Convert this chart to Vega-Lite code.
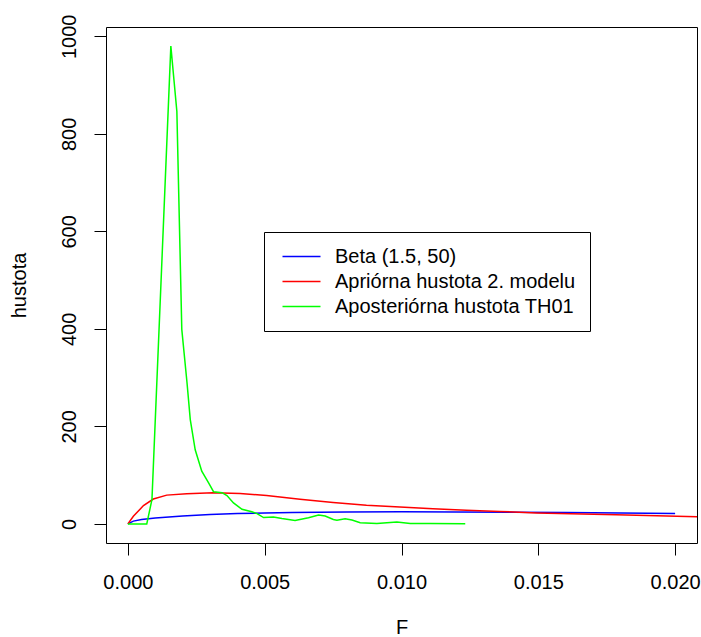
{
  "$schema": "https://vega.github.io/schema/vega-lite/v6.json",
  "width": 591,
  "height": 516,
  "autosize": {"type": "none"},
  "padding": {"left": 106, "top": 27, "right": 4, "bottom": 94},
  "background": "white",
  "config": {
    "font": "Liberation Sans",
    "view": {"stroke": "black", "strokeWidth": 1},
    "axis": {
      "domain": false,
      "grid": false,
      "tickColor": "black",
      "tickSize": 12,
      "tickWidth": 1,
      "labelColor": "black",
      "labelFontSize": 20,
      "labelFont": "Liberation Sans",
      "titleFont": "Liberation Sans",
      "titleFontSize": 20,
      "titleFontWeight": "normal",
      "titleColor": "black"
    }
  },
  "data": {
    "values": [
      {"F": 0, "d": 0, "s": "Beta (1.5, 50)"},
      {"F": 0.0002, "d": 5.7, "s": "Beta (1.5, 50)"},
      {"F": 0.0005, "d": 8.8, "s": "Beta (1.5, 50)"},
      {"F": 0.001, "d": 12.2, "s": "Beta (1.5, 50)"},
      {"F": 0.002, "d": 16.4, "s": "Beta (1.5, 50)"},
      {"F": 0.003, "d": 19.1, "s": "Beta (1.5, 50)"},
      {"F": 0.004, "d": 21.1, "s": "Beta (1.5, 50)"},
      {"F": 0.005, "d": 22.4, "s": "Beta (1.5, 50)"},
      {"F": 0.006, "d": 23.4, "s": "Beta (1.5, 50)"},
      {"F": 0.008, "d": 24.5, "s": "Beta (1.5, 50)"},
      {"F": 0.010, "d": 24.7, "s": "Beta (1.5, 50)"},
      {"F": 0.012, "d": 24.6, "s": "Beta (1.5, 50)"},
      {"F": 0.014, "d": 24.0, "s": "Beta (1.5, 50)"},
      {"F": 0.016, "d": 23.2, "s": "Beta (1.5, 50)"},
      {"F": 0.018, "d": 22.3, "s": "Beta (1.5, 50)"},
      {"F": 0.020, "d": 21.2, "s": "Beta (1.5, 50)"},

      {"F": 0, "d": 0, "s": "Apriórna hustota 2. modelu"},
      {"F": 0.0002, "d": 15.6, "s": "Apriórna hustota 2. modelu"},
      {"F": 0.00057, "d": 37.5, "s": "Apriórna hustota 2. modelu"},
      {"F": 0.00093, "d": 51, "s": "Apriórna hustota 2. modelu"},
      {"F": 0.00142, "d": 59, "s": "Apriórna hustota 2. modelu"},
      {"F": 0.00215, "d": 62, "s": "Apriórna hustota 2. modelu"},
      {"F": 0.00312, "d": 64, "s": "Apriórna hustota 2. modelu"},
      {"F": 0.0041, "d": 62.5, "s": "Apriórna hustota 2. modelu"},
      {"F": 0.00507, "d": 58, "s": "Apriórna hustota 2. modelu"},
      {"F": 0.00629, "d": 50.5, "s": "Apriórna hustota 2. modelu"},
      {"F": 0.0075, "d": 44, "s": "Apriórna hustota 2. modelu"},
      {"F": 0.00872, "d": 38, "s": "Apriórna hustota 2. modelu"},
      {"F": 0.00994, "d": 34.5, "s": "Apriórna hustota 2. modelu"},
      {"F": 0.01115, "d": 31, "s": "Apriórna hustota 2. modelu"},
      {"F": 0.01237, "d": 28, "s": "Apriórna hustota 2. modelu"},
      {"F": 0.01359, "d": 25.5, "s": "Apriórna hustota 2. modelu"},
      {"F": 0.01493, "d": 22.5, "s": "Apriórna hustota 2. modelu"},
      {"F": 0.01785, "d": 18.5, "s": "Apriórna hustota 2. modelu"},
      {"F": 0.0208, "d": 14.5, "s": "Apriórna hustota 2. modelu"},
      {"F": 0.022, "d": 13.5, "s": "Apriórna hustota 2. modelu"},

      {"F": 0, "d": 0, "s": "Aposteriórna hustota TH01"},
      {"F": 0.00069, "d": 0, "s": "Aposteriórna hustota TH01"},
      {"F": 0.00088, "d": 50, "s": "Aposteriórna hustota TH01"},
      {"F": 0.00157, "d": 980, "s": "Aposteriórna hustota TH01"},
      {"F": 0.00179, "d": 846, "s": "Aposteriórna hustota TH01"},
      {"F": 0.00197, "d": 399, "s": "Aposteriórna hustota TH01"},
      {"F": 0.00216, "d": 290, "s": "Aposteriórna hustota TH01"},
      {"F": 0.00228, "d": 214, "s": "Aposteriórna hustota TH01"},
      {"F": 0.00246, "d": 152, "s": "Aposteriórna hustota TH01"},
      {"F": 0.0027, "d": 108, "s": "Aposteriórna hustota TH01"},
      {"F": 0.00295, "d": 84, "s": "Aposteriórna hustota TH01"},
      {"F": 0.00313, "d": 66, "s": "Aposteriórna hustota TH01"},
      {"F": 0.00344, "d": 64, "s": "Aposteriórna hustota TH01"},
      {"F": 0.00362, "d": 58, "s": "Aposteriórna hustota TH01"},
      {"F": 0.00386, "d": 43, "s": "Aposteriórna hustota TH01"},
      {"F": 0.00417, "d": 30, "s": "Aposteriórna hustota TH01"},
      {"F": 0.00453, "d": 25, "s": "Aposteriórna hustota TH01"},
      {"F": 0.00472, "d": 21, "s": "Aposteriórna hustota TH01"},
      {"F": 0.00496, "d": 13, "s": "Aposteriórna hustota TH01"},
      {"F": 0.00532, "d": 14, "s": "Aposteriórna hustota TH01"},
      {"F": 0.00563, "d": 11, "s": "Aposteriórna hustota TH01"},
      {"F": 0.00611, "d": 7, "s": "Aposteriórna hustota TH01"},
      {"F": 0.0066, "d": 12.5, "s": "Aposteriórna hustota TH01"},
      {"F": 0.00697, "d": 18, "s": "Aposteriórna hustota TH01"},
      {"F": 0.00721, "d": 16, "s": "Aposteriórna hustota TH01"},
      {"F": 0.00751, "d": 9, "s": "Aposteriórna hustota TH01"},
      {"F": 0.00764, "d": 7.5, "s": "Aposteriórna hustota TH01"},
      {"F": 0.00794, "d": 10.6, "s": "Aposteriórna hustota TH01"},
      {"F": 0.00819, "d": 7.8, "s": "Aposteriórna hustota TH01"},
      {"F": 0.00849, "d": 2.4, "s": "Aposteriórna hustota TH01"},
      {"F": 0.0091, "d": 1, "s": "Aposteriórna hustota TH01"},
      {"F": 0.00983, "d": 3.7, "s": "Aposteriórna hustota TH01"},
      {"F": 0.01032, "d": 1, "s": "Aposteriórna hustota TH01"},
      {"F": 0.01105, "d": 1, "s": "Aposteriórna hustota TH01"},
      {"F": 0.01233, "d": 0.4, "s": "Aposteriórna hustota TH01"}
    ]
  },
  "mark": {"type": "line", "clip": true, "strokeWidth": 1.5},
  "encoding": {
    "x": {
      "field": "F",
      "type": "quantitative",
      "scale": {"domain": [-0.0008, 0.0208], "nice": false, "zero": false},
      "axis": {
        "values": [0, 0.005, 0.01, 0.015, 0.02],
        "format": ".3f",
        "title": "F",
        "labelPadding": 17,
        "titlePadding": 25,
        "labelFlush": false
      }
    },
    "y": {
      "field": "d",
      "type": "quantitative",
      "scale": {"domain": [-39.2, 1019.2], "nice": false, "zero": false},
      "axis": {
        "values": [0, 200, 400, 600, 800, 1000],
        "format": "d",
        "title": "hustota",
        "labelAngle": 270,
        "labelAlign": "center",
        "labelBaseline": "bottom",
        "labelPadding": 15,
        "titlePadding": 30,
        "labelFlush": false
      }
    },
    "color": {
      "field": "s",
      "type": "nominal",
      "scale": {
        "domain": ["Beta (1.5, 50)", "Apriórna hustota 2. modelu", "Aposteriórna hustota TH01"],
        "range": ["#0000ff", "#ff0000", "#00ff00"]
      },
      "legend": {
        "orient": "none",
        "legendX": 158,
        "legendY": 205,
        "title": null,
        "symbolType": "M-2,0H2",
        "symbolSize": 361,
        "symbolStrokeWidth": 1.5,
        "labelFontSize": 20,
        "labelFont": "Liberation Sans",
        "labelColor": "black",
        "labelLimit": 400,
        "labelOffset": 23,
        "fillColor": "white",
        "strokeColor": "black",
        "padding": 14,
        "rowPadding": 4,
        "symbolOffset": 13
      }
    }
  }
}
